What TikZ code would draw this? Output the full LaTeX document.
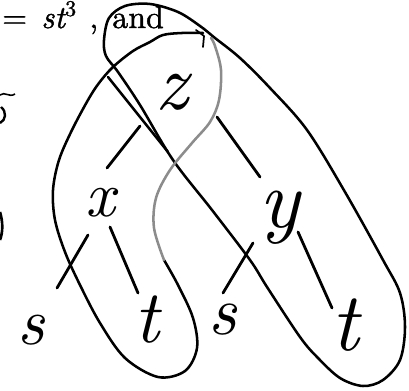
\documentclass[tikz,border=0pt]{standalone}
\usepackage{fontspec}
\setmainfont{lmroman10-regular.otf}[ItalicFont=lmroman10-italic.otf]
\newfontfamily\scanfont{lmroman10-regular.otf}[FakeBold=1.2,ItalicFont=lmroman10-italic.otf,ItalicFeatures={FakeBold=1.2}]
\begin{document}
\begin{tikzpicture}[x=0.75pt,y=-0.75pt,
  loopline/.style={line width=1.9pt, line join=round, line cap=round},
  faint/.style={line width=1.9pt, black!45, line cap=round, line join=round},
  edge/.style={line width=2.1pt, line cap=round},
  lab/.style={inner sep=0pt},
  txt/.style={inner sep=0pt, anchor=base west, font=\fontsize{24}{28}\selectfont\scanfont}]
\useasboundingbox (0,0) rectangle (409,391);

% cropped text at the top
\node[txt] (eq) at (2,28) {=};
\node[txt] (st) at (41,28) {\itshape st\textsuperscript{\upshape 3}};
\node[txt] (comma) at (89,28) {,};
\node[txt] (and) at (112,28) {and};

% handwritten labels
\node[lab, font=\fontsize{60}{60}\selectfont\itshape] (z) at (172,92) {z};
\node[lab, font=\fontsize{48}{48}\selectfont\itshape] (x) at (100,203) {x};
\node[lab, font=\fontsize{62}{62}\selectfont\itshape] (y) at (280,218) {y};
\node[lab, font=\fontsize{50}{50}\selectfont\itshape] (sa) at (31,330) {s};
\node[lab, font=\fontsize{56}{56}\selectfont\itshape] (ta) at (147,320) {t};
\node[lab, font=\fontsize{52}{52}\selectfont\itshape] (sb) at (223,320) {s};
\node[lab, font=\fontsize{62}{62}\selectfont\itshape] (tb) at (345,325) {t};

% tree edges
\draw[edge] ([shift={(-32,34)}]z.center) -- ([shift={(7,-35)}]x.center);
\draw[edge] ([shift={(45,25)}]z.center) -- ([shift={(-20,-41)}]y.center);
\draw[edge] ([shift={(-12,32)}]x.center) -- ([shift={(26,-42)}]sa.center);
\draw[edge] ([shift={(10,24)}]x.center) -- ([shift={(-9,-27)}]ta.center);
\draw[edge] ([shift={(-27,25)}]y.center) -- ([shift={(0,-27)}]sb.center);
\draw[edge] ([shift={(18,14)}]y.center) -- ([shift={(-13,-17)}]tb.center);

% right loop (z, y, t)
\draw[loopline] plot[smooth cycle, tension=0.55] coordinates {
  (104,40) (109,18) (125,6) (150,4) (178,12) (200,26) (215,38) (240,58)
  (270,88) (307,130) (345,192) (383,260) (400,293) (405,327) (400,360)
  (383,380) (363,386) (340,378) (318,358) (300,337) (267,287) (250,260)
  (212,210) (173,160) (140,105) (118,72) (106,56)};
\draw[loopline] (108,77) -- (168,152);

% left loop (x, t), dark part
\draw[loopline] plot[smooth, tension=0.55] coordinates {
  (203,33) (182,33) (163,35) (150,42) (133,51) (113,67) (99,83) (88,100)
  (72,130) (59,160) (53,190) (55,220) (65,252) (80,285) (100,323) (125,358)
  (158,377) (185,371) (197,348) (193,318) (178,285) (164,260)};
% left loop, faint part
\draw[faint] plot[smooth, tension=0.55] coordinates {
  (164,260) (154,228) (156,198) (170,170) (192,143) (210,122) (219,100)
  (221,70) (215,46) (211,38)};
% small hook at the start of the left loop
\draw[line width=1.3pt, line cap=round, line join=round] (196,30) -- (204,36) -- (203,47);

% fragments at the cropped left edge
\draw[line width=1.2pt] (0,95) .. controls (5,91) and (9,98) .. (15,94);
\draw[line width=1.8pt] (1,107) .. controls (7,112) and (6,120) .. (0,123);
\draw[line width=2pt] (0,212) .. controls (3,222) and (3,232) .. (0,240);
\end{tikzpicture}
\end{document}
